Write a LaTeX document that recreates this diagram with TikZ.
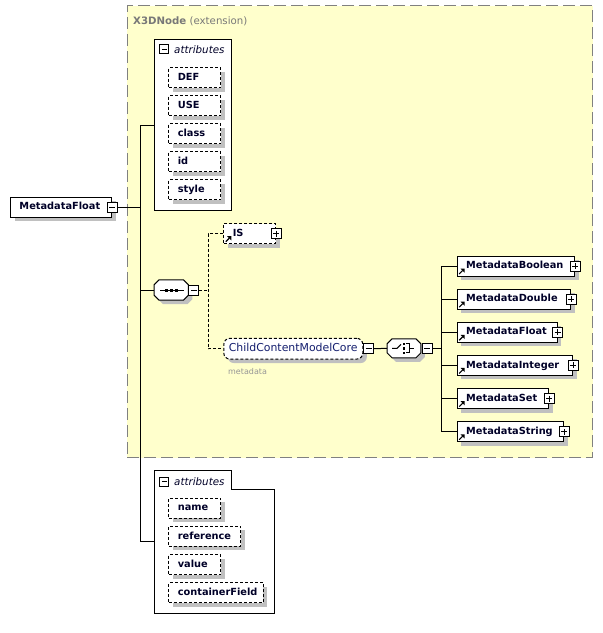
\documentclass[tikz,border=0pt]{standalone}
\usepackage{fontspec}
\setmainfont{DejaVu Sans}
\usetikzlibrary{shadows,arrows.meta,calc}
\definecolor{ybg}{RGB}{255,255,204}
\definecolor{ybord}{RGB}{128,128,128}
\definecolor{shdc}{RGB}{192,192,192}
\definecolor{nav}{RGB}{0,0,40}
\definecolor{navb}{RGB}{20,30,110}
\definecolor{gtx}{RGB}{120,120,120}
\definecolor{mgray}{RGB}{150,150,150}
\tikzset{
  bw/.code={\pgfmathsetmacro\tw{#1-18}\pgfkeysalso{/tikz/text width/.expanded=\tw pt}},
  shd/.style={general shadow={fill=shdc, shadow xshift=4pt, shadow yshift=-4pt}},
  box/.style={draw=black, line width=1pt, fill=white, rectangle, minimum height=20pt,
    inner xsep=9pt, inner ysep=0pt, anchor=west, align=left,
    font=\fontsize{9.8}{11}\selectfont\bfseries, text=nav, text height=7.2pt, text depth=2pt},
  refarrow/.style={path picture={
    \draw[black, solid, line width=1.1pt] ([xshift=2pt,yshift=2pt]path picture bounding box.south west) -- ++(3.5pt,3.5pt);
    \fill[black] ([xshift=7.5pt,yshift=7.5pt]path picture bounding box.south west) -- ++(-4.2pt,0pt) -- ++(4.2pt,-4.2pt) -- cycle;}},
  elem/.style={box, shd},
  refelem/.style={box, shd, refarrow},
  attr/.style={box, shd, dash pattern=on 3pt off 2pt},
  pm/.style={draw=black, line width=0.8pt, fill=white, rectangle, minimum size=10pt, inner sep=0pt},
  minus/.style={pm, path picture={\draw[black, line width=0.8pt]
    ([xshift=2pt]path picture bounding box.west) -- ([xshift=-2pt]path picture bounding box.east);}},
  plus/.style={pm, path picture={\draw[black, line width=0.8pt]
    ([xshift=2pt]path picture bounding box.west) -- ([xshift=-2pt]path picture bounding box.east)
    ([yshift=-2pt]path picture bounding box.north) -- ([yshift=2pt]path picture bounding box.south);}},
  hminus/.style={minus, minimum size=9pt},
  comp/.style={rectangle, inner sep=0pt},
  octo/.style={fill=white, draw=black, line width=1pt,
    preaction={fill=shdc, transform canvas={shift={(4pt,-4pt)}}}},
  conn/.style={draw=black, line width=1pt},
  dconn/.style={conn, dash pattern=on 3pt off 2pt},
  hdrit/.style={font=\fontsize{10.3}{12}\selectfont\itshape, text=nav, inner sep=0pt, anchor=base west},
}
\begin{document}
\begin{tikzpicture}[x=1pt,y=-1pt]
\useasboundingbox (0,0) rectangle (603,633);
\fill[white] (0,0) rectangle (603,633);
% extension region
\node[draw=ybord, fill=ybg, dash pattern=on 12pt off 5pt, line width=1pt, rectangle,
  minimum width=465.6pt, minimum height=451.7pt, anchor=north west, inner sep=0pt] (ext) at (126.7,5.3) {};
\node[anchor=base west, inner sep=0pt, text=gtx, font=\fontsize{10.2}{12}\selectfont] (x3d) at (133,24)
  {\textbf{X3DNode} (extension)};
% top attributes group
\node[draw=black, line width=1pt, fill=white, rectangle, minimum width=77pt, minimum height=171pt,
  anchor=north west, inner sep=0pt] (a1) at (154.3,39.3) {};
\node[hminus] (a1m) at (164.3,49.3) {};
\node[hdrit] (a1t) at (174,53.8) {attributes};
\foreach \n/\t [count=\i from 0] in {def/DEF,use/USE,cls/class,idn/id,sty/style}
  \node[attr, bw=52] (\n) at (168.3,{77.5+28*\i}) {\t};
% bottom attributes group
\node[rectangle, minimum width=120pt, minimum height=143.3pt, anchor=north west, inner sep=0pt] (a2) at (154.3,470) {};
\filldraw[draw=black, fill=white, line width=1pt] (a2.north west) -- ([xshift=77.4pt]a2.north west)
  -- ([xshift=77.4pt,yshift=-19.3pt]a2.north west) -- ([yshift=-19.3pt]a2.north east)
  -- (a2.south east) -- (a2.south west) -- cycle;
\node[hminus] (a2m) at (164.3,481.8) {};
\node[hdrit] (a2t) at (174,485.8) {attributes};
\foreach \n/\t/\w [count=\i from 0] in {nam/name/52,ref/reference/72,val/value/52,cfd/containerField/94.4}
  \node[attr, bw=\w] (\n) at (168.3,{508.3+28.1*\i}) {\t};
% main element
\node[elem, bw=101] (mf) at (10,207.3) {MetadataFloat};
\node[minus] (mfm) at (mf.east) {};
% compositors (outline drawn below)
\node[comp, minimum width=34pt, minimum height=20pt] (seq) at (171.2,290) {};
\node[comp, minimum width=33.4pt, minimum height=18.7pt] (ch) at (404,348.3) {};
\foreach \n in {seq,ch}
  \path[octo] ($(\n.north west)+(5,0)$) -- ($(\n.north east)+(-5,0)$) -- ($(\n.north east)+(0,5)$)
    -- ($(\n.south east)+(0,-5)$) -- ($(\n.south east)+(-5,0)$) -- ($(\n.south west)+(5,0)$)
    -- ($(\n.south west)+(0,-5)$) -- ($(\n.north west)+(0,5)$) -- cycle;
\node[minus, anchor=west] (seqm) at (seq.east) {};
\draw[line width=1pt] ($(seq.center)+(-11,0)$) -- ($(seq.center)+(13,0)$);
\foreach \d in {-4.5,0.5,5.5}
  \fill ($(seq.center)+(\d-1.5,-1.5)$) rectangle ($(seq.center)+(\d+1.5,1.5)$);
\node[minus, anchor=west] (chm) at ([xshift=1pt]ch.east) {};
\draw[line width=1pt] ($(ch.center)+(-12,0)$) -- ($(ch.center)+(-7,0)$) -- ($(ch.center)+(-3,-4)$);
\foreach \d in {-4.5,0,4.5}
  \fill ($(ch.center)+(-1.2,\d-1.2)$) rectangle ($(ch.center)+(1.2,\d+1.2)$);
\draw[line width=1pt] ($(ch.center)+(1.5,-4.5)$) -- ($(ch.center)+(5,-4.5)$) -- ($(ch.center)+(5,4.5)$)
  -- ($(ch.center)+(1.5,4.5)$) ($(ch.center)+(5,0)$) -- ($(ch.center)+(10,0)$);
% IS
\node[refelem, dash pattern=on 3pt off 2pt, bw=51.7] (is) at (223.3,233.7) {IS};
\node[plus] (isp) at (is.east) {};
% ChildContentModelCore
\node[box, shd, rounded corners=6pt, dash pattern=on 3pt off 2pt, text width=129pt, minimum height=20.7pt,
  font=\fontsize{10.9}{13}\selectfont, text=navb, inner xsep=5pt] (cc) at (223.3,348.7) {ChildContentModelCore};
\node[minus, anchor=west] (ccm) at (cc.east) {};
\node[anchor=base west, inner sep=0pt, text=mgray, font=\fontsize{8}{9}\selectfont] (ccl) at (228,374) {metadata};
% choice children
\foreach \n/\t/\w [count=\i from 0] in {mb/MetadataBoolean/117.6,md/MetadataDouble/113.3,
    mfl/MetadataFloat/100,mi/MetadataInteger/115.3,mset/MetadataSet/91.6,mstr/MetadataString/106.6}
  {\node[refelem, bw=\w] (\n) at (456.7,{266+33.15*\i}) {\t};
   \node[plus] (\n p) at (\n.east) {};}
% connectors
\coordinate (tr) at (140,0);
\draw[conn] (a1.west) -- (a1.west -| tr) -- (a2.west -| tr) -- (a2.west);
\draw[conn] (mfm.east) -- (mfm.east -| tr);
\draw[conn] (seq.west -| tr) -- (seq.west);
\coordinate (dj) at (208.3,0);
\draw[dconn] (seqm.east) -- (seqm.east -| dj);
\draw[dconn] (is.west) -- (is.west -| dj) -- (cc.west -| dj) -- (cc.west);
\draw[conn] (ccm.east) -- (ch.west);
\coordinate (cj) at (441,0);
\draw[conn] (chm.east) -- (chm.east -| cj);
\draw[conn] (mb.west) -- (mb.west -| cj) -- (mstr.west -| cj) -- (mstr.west);
\foreach \n in {md,mfl,mi,mset}
  \draw[conn] (\n.west -| cj) -- (\n.west);
\end{tikzpicture}
\end{document}
